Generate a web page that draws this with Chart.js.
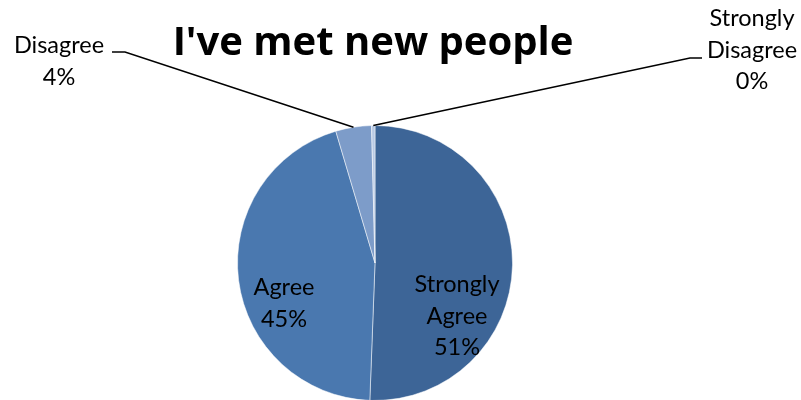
<!DOCTYPE html>
<html>
<head>
<meta charset="utf-8">
<script src="https://cdn.jsdelivr.net/npm/chart.js@4.4.0/dist/chart.umd.min.js"></script>
<style>
    html, body { margin: 0; padding: 0; background: #fff; overflow: hidden; }
    #wrap { width: 801px; height: 400px; overflow: hidden; }
</style>
</head>
<body>
<div id="wrap"><canvas id="pieChart" width="801" height="420"></canvas></div>
<script>
// Chart data
const chartTitle = "I've met new people";
const categories = ['Strongly Agree', 'Agree', 'Disagree', 'Strongly Disagree'];
const shares = [50.6, 44.8, 4.2, 0.4];
const sliceColors = ['#3d6597', '#4a78af', '#7d9cc9', '#b9cae4'];

const FONT = "Lato, 'Liberation Sans', sans-serif";

// Where each label goes (text centre x, first baseline y) and, for the
// outside ones, the elbow of the leader line
const labelSpots = [
    { x: 457, y: 292 },
    { x: 284, y: 295 },
    { x: 59, y: 53, elbow: [125, 52], tail: 112 },
    { x: 752, y: 26, elbow: [690, 58], tail: 702 }
];

const pieLabels = {
    id: 'pieLabels',
    afterDraw(chart) {
        const ctx = chart.ctx;
        const meta = chart.getDatasetMeta(0);
        const total = shares.reduce((a, b) => a + b, 0);

        ctx.save();
        // title
        ctx.fillStyle = '#000';
        ctx.textAlign = 'center';
        ctx.textBaseline = 'alphabetic';
        ctx.font = "bold 40px 'Open Sans', sans-serif";
        ctx.fillText(chartTitle, 373, 55);

        ctx.font = "23.5px " + FONT;
        meta.data.forEach((arc, i) => {
            const spot = labelSpots[i];
            const pct = Math.round(shares[i] / total * 100) + '%';
            const lines = categories[i].split(' ').concat([pct]);

            if (spot.elbow) {
                const p = arc.getProps(['x', 'y', 'startAngle', 'endAngle', 'outerRadius'], true);
                const mid = (p.startAngle + p.endAngle) / 2;
                const ax = p.x + Math.cos(mid) * p.outerRadius;
                const ay = p.y + Math.sin(mid) * p.outerRadius;
                ctx.strokeStyle = '#000';
                ctx.lineWidth = 1.5;
                ctx.beginPath();
                ctx.moveTo(ax, ay);
                ctx.lineTo(spot.elbow[0], spot.elbow[1]);
                ctx.lineTo(spot.tail, spot.elbow[1]);
                ctx.stroke();
            }

            lines.forEach((txt, k) => {
                ctx.fillText(txt, spot.x, spot.y + k * 31.5);
            });
        });
        ctx.restore();
    }
};

const ctx = document.getElementById('pieChart').getContext('2d');
new Chart(ctx, {
    type: 'pie',
    data: {
        labels: categories,
        datasets: [{
            data: shares,
            backgroundColor: sliceColors,
            borderColor: 'rgba(255,255,255,0.5)',
            borderWidth: 1,
            hoverOffset: 0
        }]
    },
    options: {
        responsive: false,
        animation: false,
        layout: {
            padding: { top: 125, bottom: 19, left: 0, right: 51 }
        },
        plugins: {
            legend: { display: false },
            tooltip: { enabled: false },
            title: { display: false }
        }
    },
    plugins: [pieLabels]
});
</script>
</body>
</html>
